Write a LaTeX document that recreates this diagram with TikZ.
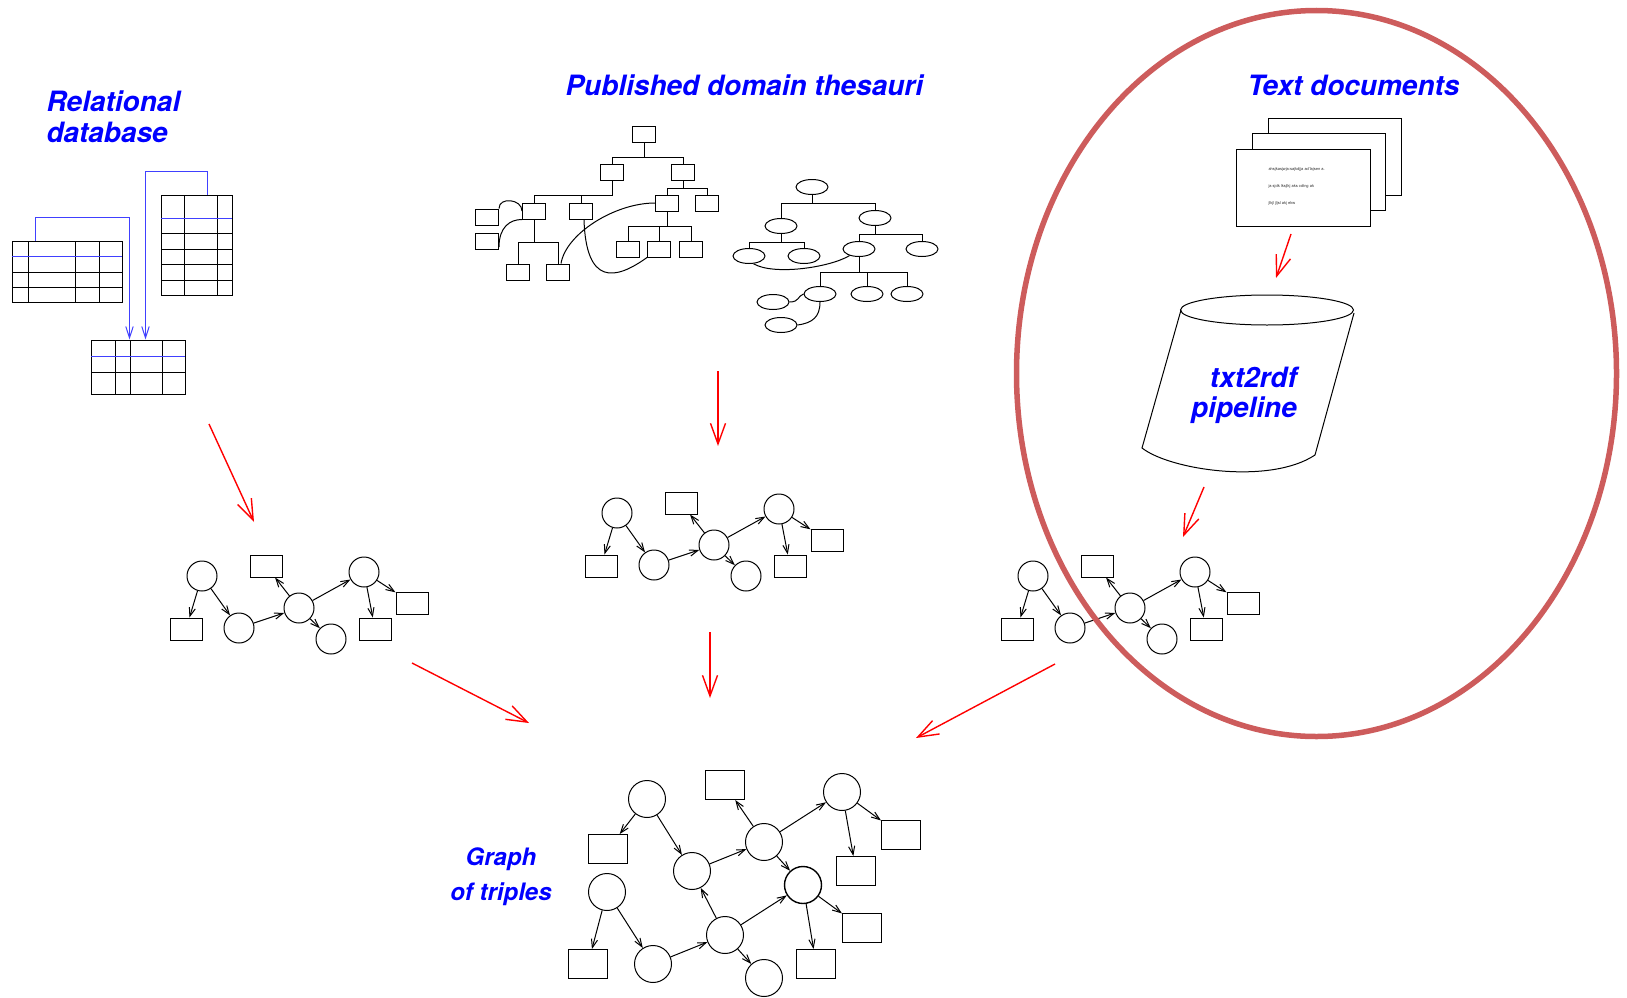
\documentclass[tikz,border=0pt]{standalone}
\usepackage{fontspec}
\setsansfont{TeX Gyre Heros}
\usetikzlibrary{arrows.meta,shapes.geometric}

\definecolor{ringred}{RGB}{205,92,92}
\definecolor{keyblue}{RGB}{64,64,255}

% one small RDF graph, #1 = name prefix, (#2,#3) = first resource
\newcommand{\smallgraph}[3]{%
  \begin{scope}[shift={(#2,#3)}]
    \node[res] (#1c1) at (0,0) {};
    \node[lit] (#1r1) at (-16,53) {};
    \node[res] (#1c2) at (37,52) {};
    \node[lit] (#1r2) at (64,-10) {};
    \node[res] (#1c3) at (97,32) {};
    \node[res] (#1c4) at (129,63) {};
    \node[res] (#1c5) at (162,-4) {};
    \node[lit] (#1r3) at (210,27) {};
    \node[lit] (#1r4) at (173,53) {};
    \draw[->] (#1c1) -- (#1r1);
    \draw[->] (#1c1) -- (#1c2);
    \draw[->] (#1c2) -- (#1c3);
    \draw[->] (#1c3) -- (#1r2);
    \draw[->] (#1c3) -- (#1c4);
    \draw[->] (#1c3) -- (#1c5);
    \draw[->] (#1c5) -- (#1r4);
    \draw[->] (#1c5) -- (#1r3);
  \end{scope}}

\begin{document}
\begin{tikzpicture}[x=1pt,y=-1pt,line width=1pt,
    >={Straight Barb[angle=40:9pt]},
    title/.style={font=\sffamily\bfseries\itshape\fontsize{28}{31}\selectfont,text=blue,inner sep=0pt},
    tbl/.style={draw,rectangle,inner sep=0pt},
    fkey/.style={draw=keyblue,->,>={Straight Barb[angle=36:12pt]}},
    box/.style={draw,rectangle,minimum width=23pt,minimum height=16pt,inner sep=0pt},
    oval/.style={draw,ellipse,minimum width=32pt,minimum height=15pt,inner sep=0pt},
    res/.style={draw,circle,minimum size=30pt,inner sep=0pt},
    lit/.style={draw,rectangle,minimum width=32pt,minimum height=22pt,inner sep=0pt},
    bigres/.style={draw,circle,minimum size=37pt,inner sep=0pt},
    biglit/.style={draw,rectangle,minimum width=39pt,minimum height=29pt,inner sep=0pt},
    page/.style={draw,fill=white,rectangle,minimum width=133pt,minimum height=77pt,inner sep=0pt},
    flow/.style={draw=red,line width=1.4pt,->,>={Straight Barb[angle=40:22pt]}}]

  \useasboundingbox (0,0) rectangle (1627,998);

  % titles
  \node[title,anchor=north west,align=left] (reltitle) at (46,90) {Relational\\database};
  \node[title,anchor=base west] (thestitle) at (565,95) {Published domain thesauri};
  \node[title,anchor=base west] (doctitle) at (1247,95) {Text documents};
  \node[title,align=center,font=\sffamily\bfseries\itshape\fontsize{24}{35}\selectfont]
    (graphtitle) at (501,877) {Graph\\of triples};

  % relational tables
  \node[tbl,minimum width=110pt,minimum height=61pt] (taba) at (67,271.5) {};
  \node[tbl,minimum width=71pt,minimum height=100pt] (tabb) at (196.5,245) {};
  \node[tbl,minimum width=94pt,minimum height=54pt] (tabc) at (138,367) {};
  \foreach \x in {28,75,99} \draw (\x,241) -- (\x,302);
  \foreach \y in {272,287} \draw (12,\y) -- (122,\y);
  \draw[keyblue] (12,256) -- (122,256);
  \foreach \x in {184,217} \draw (\x,195) -- (\x,295);
  \foreach \y in {233,249,264,280} \draw (161,\y) -- (232,\y);
  \draw[keyblue] (161,218) -- (232,218);
  \foreach \x in {115,130,162} \draw (\x,340) -- (\x,394);
  \draw (91,372) -- (185,372);
  \draw[keyblue] (91,356) -- (185,356);
  \draw[fkey] ([xshift=24pt]taba.north west) -- ++(0,-23) -| ([xshift=39pt]tabc.north west);
  \draw[fkey] ([xshift=47pt]tabb.north west) -- ++(0,-23) -| ([xshift=55pt]tabc.north west);

  % thesaurus of boxes
  \node[box] (b1) at (644,134) {};
  \node[box] (b2) at (612,172) {};
  \node[box] (b3) at (683,172) {};
  \node[box] (b4) at (534,211) {};
  \node[box] (b5) at (581,211) {};
  \node[box] (b6) at (667,203) {};
  \node[box] (b7) at (707,203) {};
  \node[box] (b8) at (487,217) {};
  \node[box] (b9) at (487,241) {};
  \node[box] (b10) at (518,272) {};
  \node[box] (b11) at (558,272) {};
  \node[box] (b12) at (628,249) {};
  \node[box] (b13) at (659,249) {};
  \node[box] (b14) at (691,249) {};
  \draw (b1.south) -- ++(0,15) -| (b2.north);
  \draw (b1.south) -- ++(0,15) -| (b3.north);
  \draw (b2.south) -- ++(0,15) -| (b4.north);
  \draw (b2.south) -- ++(0,15) -| (b5.north);
  \draw (b3.south) -- ++(0,8) -| (b6.north);
  \draw (b3.south) -- ++(0,8) -| (b7.north);
  \draw (b4.south) -- ++(0,23) -| (b10.north);
  \draw (b4.south) -- ++(0,23) -| (b11.north);
  \foreach \k in {12,13,14} \draw (b6.south) -- ++(0,15) -| (b\k.north);
  \draw (b8.north east) .. controls +(0,-12) and +(0,-12) .. (b4.west);
  \draw ([yshift=-6pt]b9.east) .. controls +(0,-20) and +(-12,0) .. (b4.south west);
  \draw ([xshift=3pt]b5.south) .. controls +(2,66) and +(-32,23) .. (b13.south west);
  \draw ([xshift=3pt]b11.north) .. controls +(5,-30) and +(-40,0) .. (b6.west);

  % thesaurus of ovals
  \node[oval] (e1) at (812,187) {};
  \node[oval] (e2) at (781,226) {};
  \node[oval] (e3) at (875,218) {};
  \node[oval] (e4) at (749,256) {};
  \node[oval] (e5) at (804,256) {};
  \node[oval] (e6) at (859,249) {};
  \node[oval] (e7) at (922,249) {};
  \node[oval] (e8) at (820,294) {};
  \node[oval] (e9) at (867,294) {};
  \node[oval] (e10) at (907,294) {};
  \node[oval] (e11) at (773,302) {};
  \node[oval] (e12) at (781,325) {};
  \draw (e1.south) -- ++(0,8) -| (e2.north);
  \draw (e1.south) -- ++(0,8) -| (e3.north);
  \draw (e2.south) -- ++(0,8) -| (e4.north);
  \draw (e2.south) -- ++(0,8) -| (e5.north);
  \draw (e3.south) -- ++(0,8) -| (e6.north);
  \draw (e3.south) -- ++(0,8) -| (e7.north);
  \foreach \k in {8,9,10} \draw (e6.south) -- ++(0,15) -| (e\k.north);
  \draw (e4.300) .. controls +(20,12) and +(-20,12) .. (e6.215);
  \draw (e11.east) .. controls +(10,0) and +(-6,2) .. (e8.west);
  \draw (e12.east) .. controls +(15,-2) and +(0,15) .. (e8.south);

  % text documents and the pipeline
  \node[page] (doc3) at (1334.5,156.5) {};
  \node[page] (doc2) at (1318.5,172) {};
  \node[page,minimum width=134pt] (doc1) at (1303,187.5) {};
  \node[anchor=north west,align=left,inner sep=0pt,text=black!80,
        font=\sffamily\fontsize{4}{17}\selectfont] (doctext) at (1268,167)
    {ahsjkasjwja:sajkdjja ad'lajsen a.\\ja sjdk lksjlkj aks cdtng ak\\jlkjl jljsl akj ekw};
  \draw (1267,310) ellipse [x radius=86.5,y radius=15];
  \draw (1181,310) -- (1142,448)
        .. controls (1170,470) and (1270,485) .. (1315,455) -- (1354,313);
  \node[title,align=right,font=\sffamily\bfseries\itshape\fontsize{28}{30}\selectfont]
    (pipe) at (1244,395) {txt2rdf\\pipeline};

  % the three small graphs
  \smallgraph{l}{202}{576}
  \smallgraph{m}{617}{513}
  \smallgraph{t}{1033}{576}

  % merged graph
  \node[bigres] (g1) at (647,799) {};
  \node[biglit] (k1) at (608,849) {};
  \node[bigres] (g2) at (692,871) {};
  \node[bigres] (g3) at (764,842) {};
  \node[biglit] (k2) at (725,785) {};
  \node[bigres] (g4) at (842,792) {};
  \node[biglit] (k3) at (901,835) {};
  \node[biglit] (k4) at (856,871) {};
  \node[bigres,line width=1.4pt] (g5) at (803,885) {};
  \node[biglit] (k5) at (862,928) {};
  \node[biglit] (k6) at (816,964) {};
  \node[bigres] (g6) at (607,892) {};
  \node[biglit] (k7) at (588,964) {};
  \node[bigres] (g7) at (653,964) {};
  \node[bigres] (g8) at (725,935) {};
  \node[bigres] (g9) at (764,978) {};
  \draw[->] (g1) -- (k1);
  \draw[->] (g1) -- (g2);
  \draw[->] (g2) -- (g3);
  \draw[->] (g3) -- (k2);
  \draw[->] (g3) -- (g4);
  \draw[->] (g3) -- (g5);
  \draw[->] (g4) -- (k4);
  \draw[->] (g4) -- (k3);
  \draw[->] (g5) -- (k5);
  \draw[->] (g5) -- (k6);
  \draw[->] (g6) -- (k7);
  \draw[->] (g6) -- (g7);
  \draw[->] (g7) -- (g8);
  \draw[->] (g8) -- (g2);
  \draw[->] (g8) -- (g5);
  \draw[->] (g8) -- (g9);

  % ring round the text side
  \node[draw=ringred,line width=5.5pt,ellipse,inner sep=0pt,
        minimum width=600pt,minimum height=726pt] (textside) at (1316.5,373.5) {};

  % red flow arrows
  \coordinate (relout) at (209,424);
  \coordinate (relin) at (254,522);
  \coordinate (thesout) at (718,371);
  \coordinate (thesin) at (718,446);
  \coordinate (docout) at (1291,234);
  \coordinate (pipein) at (1276,278);
  \coordinate (pipeout) at (1204,487);
  \coordinate (txtin) at (1183,537);
  \coordinate (lout) at (412,663);
  \coordinate (mout) at (710,632);
  \coordinate (tout) at (1055,664);
  \coordinate (lin) at (529,723);
  \coordinate (min) at (710,698);
  \coordinate (tin) at (916,738);
  \draw[flow] (relout) -- (relin);
  \draw[flow] (thesout) -- (thesin);
  \draw[flow] (docout) -- (pipein);
  \draw[flow] (pipeout) -- (txtin);
  \draw[flow] (lout) -- (lin);
  \draw[flow] (mout) -- (min);
  \draw[flow] (tout) -- (tin);
\end{tikzpicture}
\end{document}
